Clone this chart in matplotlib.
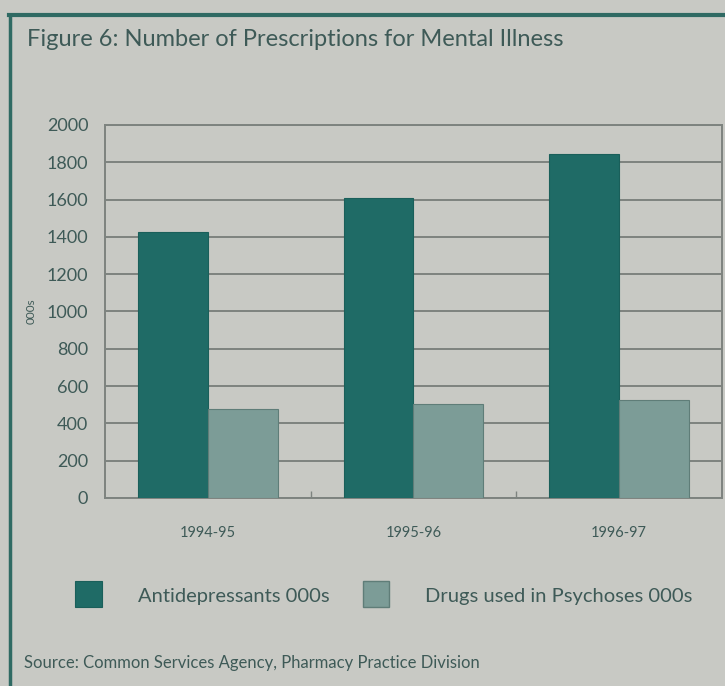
import matplotlib
matplotlib.use("Agg")
import matplotlib.pyplot as plt
import numpy as np
from matplotlib.patches import Rectangle
from matplotlib.lines import Line2D

categories = ["1994-95", "1995-96", "1996-97"]
antidepressants = [1425, 1610, 1845]
psychoses = [475, 505, 525]
series_names = ["Antidepressants 000s", "Drugs used in Psychoses 000s"]
yticks = [0, 200, 400, 600, 800, 1000, 1200, 1400, 1600, 1800, 2000]

bg = "#c8c9c4"
dark = "#1f6b66"
light = "#7c9c97"
grid_c = "#7d837f"
text_c = "#3e5a57"
border_c = "#2f6a63"

plt.rcParams['font.family'] = ['Lato', 'DejaVu Sans']

fig = plt.figure(figsize=(7.25, 6.86), dpi=100, facecolor=bg)
ax = fig.add_axes([0.1448, 0.2741, 0.851, 0.5437], facecolor=bg)

x = np.arange(len(categories))
w = 0.34
ax.bar(x - w/2, antidepressants, width=w, color=dark, edgecolor="#1a5f5a", linewidth=0.8, zorder=3)
ax.bar(x + w/2, psychoses, width=w, color=light, edgecolor="#5f7d78", linewidth=0.8, zorder=3)

ax.set_xlim(-0.5, len(categories) - 0.5)
ax.set_ylim(0, 2000)
ax.set_yticks(yticks)
ax.set_yticklabels([str(v) for v in yticks], fontsize=13, color=text_c)
ax.yaxis.grid(True, color=grid_c, linewidth=1.4, zorder=0)
ax.tick_params(axis='y', length=0, pad=12)

ax.set_xticks(x)
ax.set_xticklabels(categories, fontsize=10.5, color=text_c)
ax.tick_params(axis='x', length=0, pad=20)
ax.set_xticks([0.5, 1.5], minor=True)
ax.tick_params(axis='x', which='minor', direction='in', length=5, color=grid_c, width=1)

for s in ax.spines.values():
    s.set_color(grid_c)
    s.set_linewidth(1.4)

ax.set_ylabel("000s", fontsize=8.5, color=text_c)
ax.yaxis.set_label_coords(-0.11, 0.5)

fig.text(0.037, 0.942, "Figure 6: Number of Prescriptions for Mental Illness",
         fontsize=17, color=text_c, va='center', ha='left')
fig.text(0.033, 0.033, "Source: Common Services Agency, Pharmacy Practice Division",
         fontsize=12, color=text_c, va='center', ha='left')

# legend
fig.patches.append(Rectangle((0.104, 0.115), 0.037, 0.038, transform=fig.transFigure,
                             facecolor=dark, edgecolor="#1a5f5a", linewidth=0.8))
fig.text(0.19, 0.131, series_names[0], fontsize=14.5, color=text_c, va='center', ha='left')
fig.patches.append(Rectangle((0.500, 0.115), 0.037, 0.038, transform=fig.transFigure,
                             facecolor=light, edgecolor="#5f7d78", linewidth=1.0))
fig.text(0.586, 0.131, series_names[1], fontsize=14.5, color=text_c, va='center', ha='left')

# outer frame lines
fig.lines.append(Line2D([0.013, 1.0], [0.978, 0.978], transform=fig.transFigure,
                        color=border_c, linewidth=3))
fig.lines.append(Line2D([0.014, 0.014], [0.0, 0.978], transform=fig.transFigure,
                        color=border_c, linewidth=2.5))

fig.savefig("out.png", dpi=100, facecolor=bg)
